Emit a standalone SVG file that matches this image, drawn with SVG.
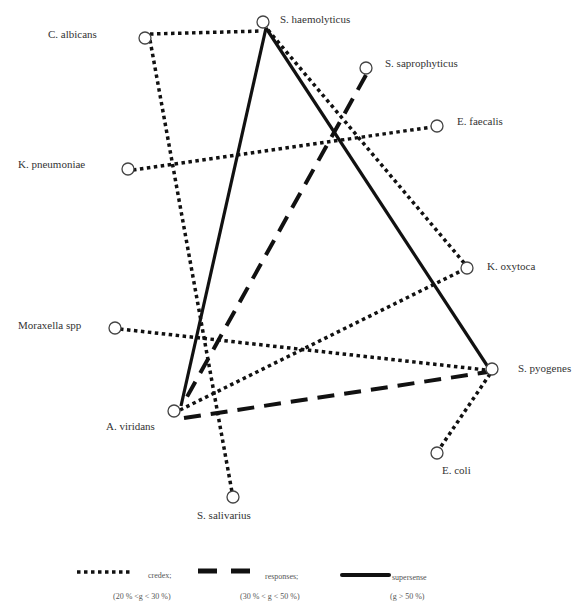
<svg xmlns="http://www.w3.org/2000/svg" width="588" height="608" viewBox="0 0 588 608">
<style>
.lbl{font-family:"Liberation Serif","Times New Roman",serif;font-size:11px;fill:#333}
.leg{font-family:"Liberation Serif","Times New Roman",serif;font-size:8px;fill:#555}
.dot{stroke:#111;stroke-width:3.5;stroke-dasharray:3.5 3.5;fill:none}
.dash{stroke:#111;stroke-width:4;stroke-dasharray:17 10;fill:none}
.sol{stroke:#111;stroke-width:3.2;fill:none}
.nd{fill:#fff;stroke:#444;stroke-width:1.3}
</style>
<rect width="588" height="608" fill="#fff"/>
<g id="connectors">
<line class="dot" x1="150" y1="34" x2="262" y2="31"/>
<line class="dot" x1="150" y1="40" x2="232" y2="492"/>
<line class="dot" x1="268" y1="30" x2="465" y2="264"/>
<line class="dot" x1="133" y1="170" x2="432" y2="127"/>
<line class="dot" x1="120" y1="329" x2="486" y2="370"/>
<line class="dot" x1="180" y1="410" x2="463" y2="270"/>
<line class="dot" x1="490" y1="374" x2="440" y2="448"/>
<line class="dash" x1="366" y1="75" x2="183" y2="404"/>
<line class="dash" x1="184" y1="418" x2="488" y2="372"/>
<line class="sol" x1="266" y1="28" x2="181" y2="406"/>
<line class="sol" x1="266" y1="28" x2="490" y2="370"/>
</g>
<g id="n-shaem"><circle class="nd" cx="263" cy="22" r="6"/><text class="lbl" x="280" y="23">S. haemolyticus</text></g>
<g id="n-calb"><circle class="nd" cx="145" cy="38" r="6"/><text class="lbl" x="48" y="38">C. albicans</text></g>
<g id="n-ssap"><circle class="nd" cx="366" cy="68" r="6"/><text class="lbl" x="385" y="67">S. saprophyticus</text></g>
<g id="n-efae"><circle class="nd" cx="437" cy="126" r="6"/><text class="lbl" x="457" y="125">E. faecalis</text></g>
<g id="n-kpneu"><circle class="nd" cx="128" cy="169" r="6"/><text class="lbl" x="18" y="168">K. pneumoniae</text></g>
<g id="n-koxy"><circle class="nd" cx="467" cy="268" r="6"/><text class="lbl" x="487" y="270">K. oxytoca</text></g>
<g id="n-mora"><circle class="nd" cx="115" cy="328" r="6"/><text class="lbl" x="18" y="329">Moraxella spp</text></g>
<g id="n-spyo"><circle class="nd" cx="492" cy="369" r="6"/><text class="lbl" x="518" y="372">S. pyogenes</text></g>
<g id="n-avir"><circle class="nd" cx="174" cy="411" r="6"/><text class="lbl" x="106" y="430">A. viridans</text></g>
<g id="n-ecoli"><circle class="nd" cx="437" cy="453" r="6"/><text class="lbl" x="442" y="474">E. coli</text></g>
<g id="n-ssal"><circle class="nd" cx="233" cy="497" r="6"/><text class="lbl" x="197" y="519">S. salivarius</text></g>
<g id="legend">
<line class="dot" x1="77" y1="572" x2="133" y2="572"/>
<text class="leg" x="148" y="578">credex;</text>
<line stroke="#111" stroke-width="5" x1="198" y1="571" x2="217" y2="571"/>
<line stroke="#111" stroke-width="5" x1="231" y1="571" x2="250" y2="571"/>
<text class="leg" x="265" y="579">responses;</text>
<line stroke="#111" stroke-width="4" stroke-linecap="round" x1="342" y1="575" x2="389" y2="575"/>
<text class="leg" x="392" y="580">supersense</text>
<text class="leg" x="113" y="599">(20 % &lt;g &lt; 30 %)</text>
<text class="leg" x="240" y="599">(30 % &lt; g &lt; 50 %)</text>
<text class="leg" x="390" y="599">(g &gt; 50 %)</text>
</g>
</svg>
